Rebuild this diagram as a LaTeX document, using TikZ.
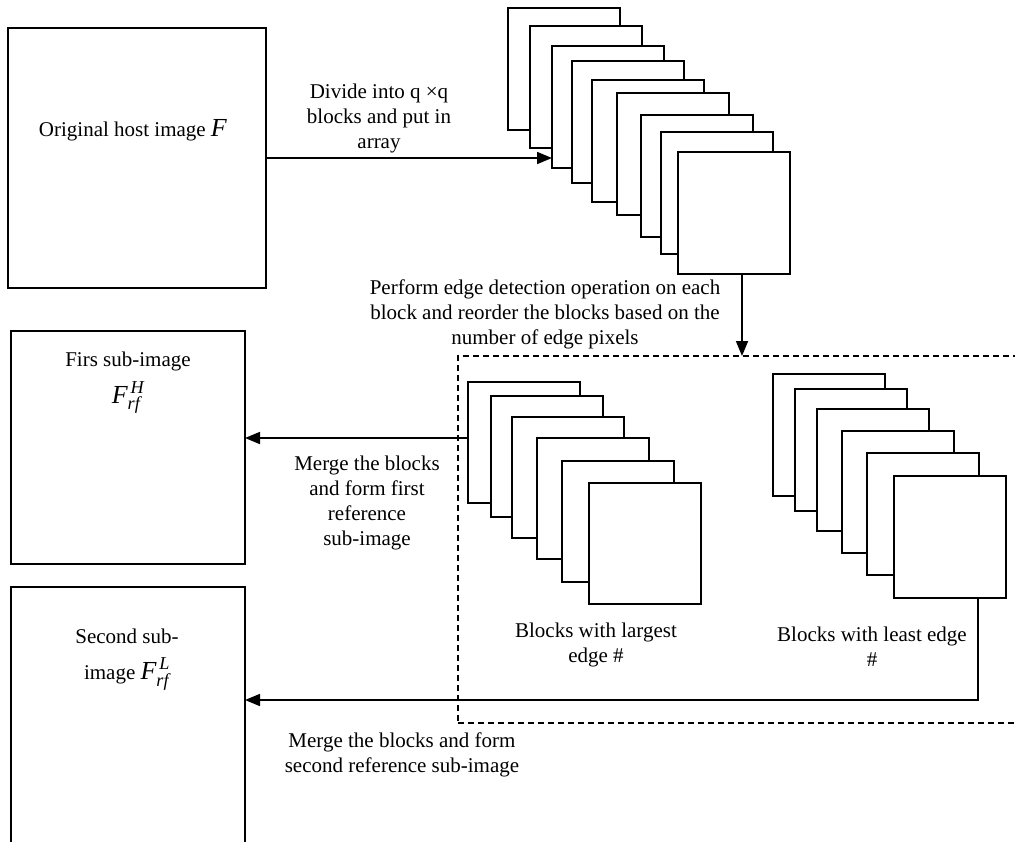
\documentclass[tikz,border=0pt]{standalone}
\usepackage{amsmath}
\usepackage{fontspec}
\setmainfont{Liberation Serif}
\usepackage{tikz}
\usetikzlibrary{positioning,arrows.meta}
\newcommand{\Fbig}[2]{{\fontsize{26}{26}\selectfont$\textit{F}^{\,\textit{#1}}_{\textit{#2}}$}}

\begin{document}
\begin{tikzpicture}[x=1pt,y=-1pt,
		every node/.style={align=center,
			font=\fontsize{21}{25}\selectfont,
			inner sep=0pt, outer sep=0pt,
		},
		img/.style={draw, line width=1.7pt, anchor=north west},
		blk/.style={draw, fill=white, line width=1.7pt, anchor=north west,
			minimum width=112pt, minimum height=#1},
		lbl/.style={anchor=north},
		arr/.style={-{Triangle[length=15pt,width=12pt]}, line width=1.7pt},
		]
		\useasboundingbox (0,0) rectangle (1015,841);

		% input image and its blocks
		\node (host) [img, minimum width=258pt, minimum height=260pt] at (8,28) {};
		\node (hosttext) [lbl] at (133,119) {Original host image {\fontsize{26}{26}\selectfont\textit{F}}};
		\foreach \x/\y [count=\i] in {508/8,530/26,552/46,572/61,592/80,617/93,641/115,661/132,678/152}
			\node (a\i) [blk=122pt] at (\x,\y) {};
		\node (divide) [lbl] at (379,84) {Divide into q ×q\\blocks and put in\\array};
		\draw[arr] (host.east) -- (host.east -| a3.west);

		% sorted blocks
		\node (group) [img, line width=1.2pt, dash pattern=on 6pt off 4pt,
			minimum width=567pt, minimum height=367pt] at (458,356) {};
		\node (perform) [lbl] at (545,280) {Perform edge detection operation on each\\block and reorder the blocks based on the\\number of edge pixels};
		\draw[arr] ([xshift=8pt]a9.south) -- ([xshift=8pt]a9.south |- group.north);
		\foreach \x/\y [count=\i] in {468/382,491/396,512/417,537/438,562/461,589/483}
			\node (b\i) [blk=121pt] at (\x,\y) {};
		\foreach \x/\y [count=\i] in {773/374,795/389,817/409,842/431,867/453,894/476}
			\node (c\i) [blk=122pt] at (\x,\y) {};
		\node (largest) [lbl] at (596,623) {Blocks with largest\\edge \#};
		\node (least) [lbl] at (872,627) {Blocks with least edge\\\#};

		% output sub-images
		\node (subH) [img, minimum width=234pt, minimum height=233pt] at (11,331) {};
		\node (subHtext) [lbl] at (128,352) {Firs sub-image\\[9pt]\Fbig{H}{rf}};
		\node (subL) [img, minimum width=234pt, minimum height=270pt] at (11,587) {};
		\node (subLtext) [lbl] at (127,629) {Second sub-\\[11pt]image \Fbig{L}{rf}};
		\coordinate (turn) at ([xshift=28pt]c6.south |- 0,700);
		\draw[arr] ([yshift=4.5pt]b1.west) -- ([yshift=4.5pt]b1.west -| subH.east);
		\draw[arr] ([xshift=28pt]c6.south) -- (turn) -- (turn -| subL.east);
		\node (merge1) [lbl] at (367,456) {Merge the blocks\\and form first\\reference\\sub-image};
		\node (merge2) [lbl] at (402,733) {Merge the blocks and form\\second reference sub-image};

	\end{tikzpicture}
\end{document}
